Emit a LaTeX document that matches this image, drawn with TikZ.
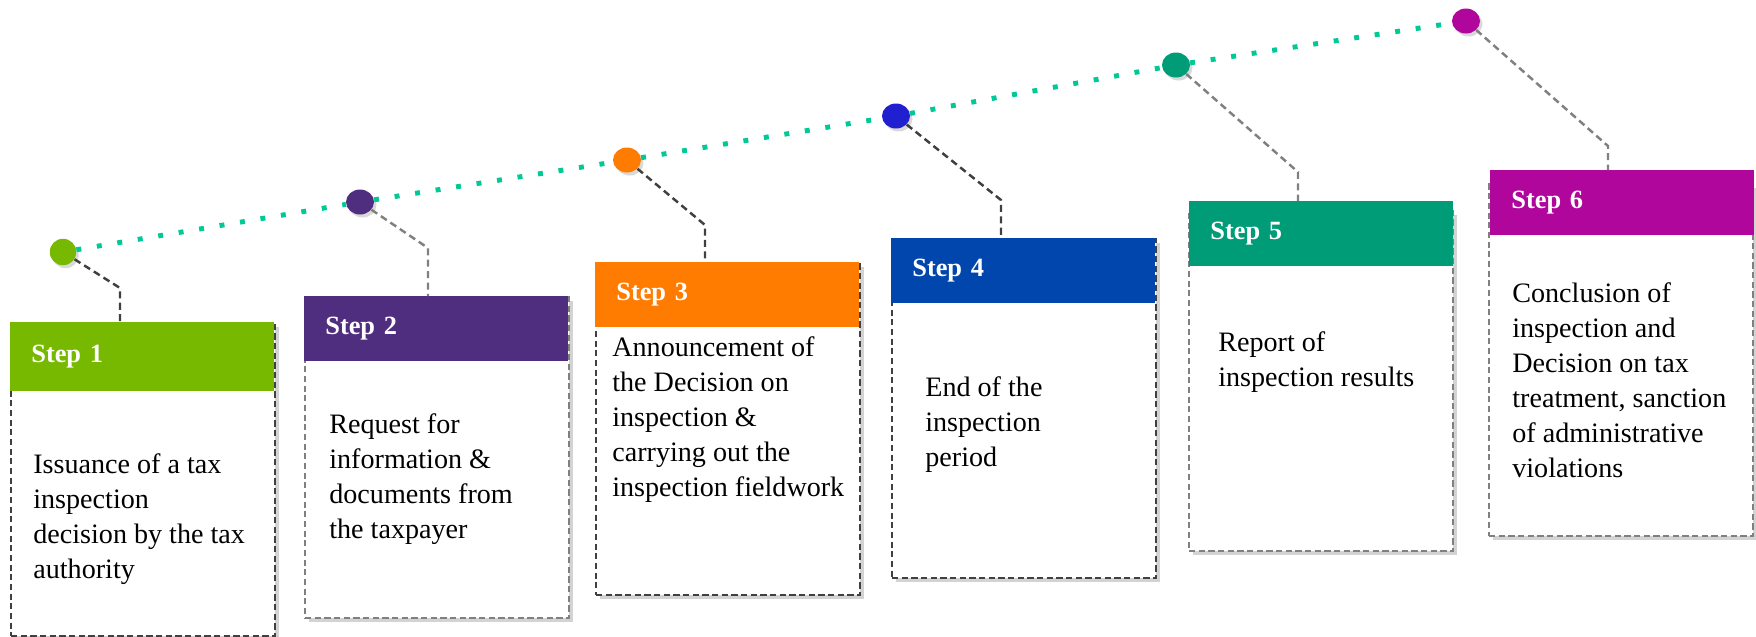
\documentclass[tikz,border=0pt]{standalone}
\usepackage{fontspec}
\setmainfont{Liberation Serif}
\usetikzlibrary{shapes.geometric,shadows}
\definecolor{stepGreen}{RGB}{118,185,0}
\definecolor{stepPurple}{RGB}{79,45,127}
\definecolor{stepOrange}{RGB}{255,124,0}
\definecolor{stepBlue}{RGB}{0,70,173}
\definecolor{dotBlue}{RGB}{32,32,208}
\definecolor{stepTeal}{RGB}{0,155,119}
\definecolor{stepMagenta}{RGB}{176,6,156}
\definecolor{trailTeal}{RGB}{0,200,150}
\definecolor{lineDark}{RGB}{64,64,64}
\definecolor{lineGray}{RGB}{128,128,128}

\begin{document}
\begin{tikzpicture}[
    frame/.style={draw=#1,line width=1.3pt,dash pattern=on 3.5pt off 2pt,fill=white,
        minimum width=5.28cm,anchor=north west,inner sep=0pt,
        drop shadow={shadow xshift=0.08cm,shadow yshift=-0.08cm,opacity=0.35}},
    head/.style={fill=#1,text=white,anchor=north west,minimum height=1.3cm,
        text width=4.44cm,inner xsep=0.42cm,inner ysep=0pt,align=left,
        font=\bfseries\fontsize{15}{18}\selectfont},
    body/.style={anchor=north west,inner sep=0pt,align=left,
        font=\fontsize{16}{20}\selectfont},
    dot/.style={ellipse,fill=#1,minimum width=0.56cm,minimum height=0.5cm,inner sep=0pt,
        drop shadow={shadow xshift=0.05cm,shadow yshift=-0.06cm,opacity=0.3}},
    link/.style={draw=#1,line width=1.4pt,dash pattern=on 4pt off 2.5pt},
    trail/.style={draw=trailTeal,line width=2.8pt,dash pattern=on 2.8pt off 9pt}
]
    \useasboundingbox (0,0) rectangle (35.12,-12.72);

    % Step boxes
    \node[frame=lineDark,minimum height=6.26cm] (box1) at (0.2,-6.44) {};
    \node[head=stepGreen,minimum height=1.38cm] (head1) at (0.2,-6.44) {Step 1};
    \node[body] (text1) at (0.66,-9.06) {Issuance of a tax\\inspection\\decision by the tax\\authority};

    \node[frame=lineGray,minimum height=6.42cm] (box2) at (6.08,-5.92) {};
    \node[head=stepPurple] (head2) at (6.08,-5.92) {Step 2};
    \node[body] (text2) at (6.58,-8.26) {Request for\\information \&\\documents from\\the taxpayer};

    \node[frame=lineDark,minimum height=6.64cm] (box3) at (11.9,-5.24) {};
    \node[head=stepOrange] (head3) at (11.9,-5.24) {Step 3};
    \node[body] (text3) at (12.24,-6.72) {Announcement of\\the Decision on\\inspection \&\\carrying out the\\inspection fieldwork};

    \node[frame=lineDark,minimum height=6.78cm] (box4) at (17.82,-4.76) {};
    \node[head=stepBlue] (head4) at (17.82,-4.76) {Step 4};
    \node[body] (text4) at (18.5,-7.52) {End of the\\inspection\\period};

    \node[frame=lineGray,minimum height=6.8cm] (box5) at (23.76,-4.2) {};
    \node[head=stepTeal] (head5) at (23.78,-4.02) {Step 5};
    \node[body] (text5) at (24.36,-6.62) {Report of\\inspection results};

    \node[frame=lineGray,minimum height=7.04cm] (box6) at (29.76,-3.66) {};
    \node[head=stepMagenta] (head6) at (29.8,-3.4) {Step 6};
    \node[body] (text6) at (30.24,-5.64) {Conclusion of\\inspection and\\Decision on tax\\treatment, sanction\\of administrative\\violations};

    % Timeline dots
    \node[dot=stepGreen,minimum width=0.53cm,minimum height=0.53cm] (dot1) at (1.26,-5.04) {};
    \node[dot=stepPurple] (dot2) at (7.2,-4.04) {};
    \node[dot=stepOrange] (dot3) at (12.54,-3.2) {};
    \node[dot=dotBlue] (dot4) at (17.92,-2.32) {};
    \node[dot=stepTeal] (dot5) at (23.52,-1.3) {};
    \node[dot=stepMagenta] (dot6) at (29.32,-0.42) {};

    \draw[trail] (dot1) -- (dot2);
    \draw[trail] (dot2) -- (dot3);
    \draw[trail] (dot3) -- (dot4);
    \draw[trail] (dot4) -- (dot5);
    \draw[trail] (dot5) -- (dot6);

    % Leaders from dots to boxes
    \coordinate (k1) at (2.4,-5.76);
    \coordinate (k2) at (8.56,-4.96);
    \coordinate (k3) at (14.1,-4.5);
    \coordinate (k4) at (20.02,-4.0);
    \coordinate (k5) at (25.96,-3.44);
    \coordinate (k6) at (32.16,-2.92);
    \draw[link=lineDark] (dot1) -- (k1) -- (k1 |- head1.north);
    \draw[link=lineGray] (dot2) -- (k2) -- (k2 |- head2.north);
    \draw[link=lineDark] (dot3) -- (k3) -- (k3 |- head3.north);
    \draw[link=lineDark] (dot4) -- (k4) -- (k4 |- head4.north);
    \draw[link=lineGray] (dot5) -- (k5) -- (k5 |- head5.north);
    \draw[link=lineGray] (dot6) -- (k6) -- (k6 |- head6.north);
\end{tikzpicture}
\end{document}
